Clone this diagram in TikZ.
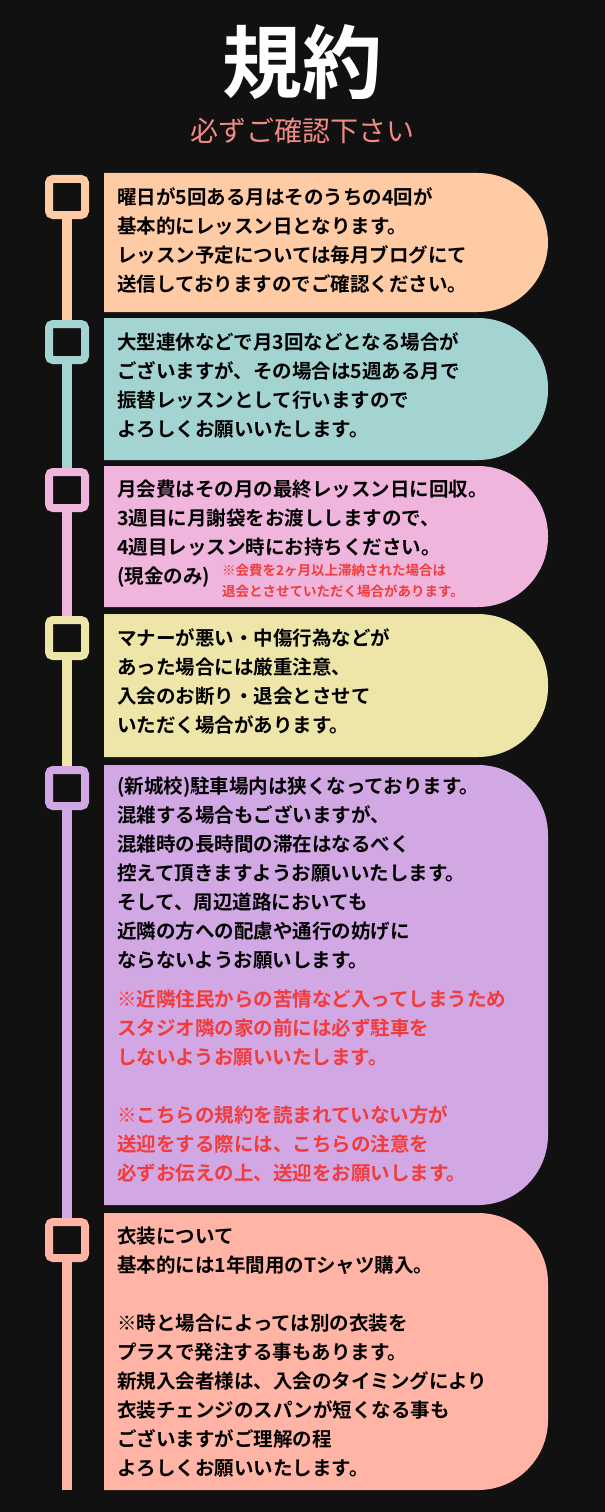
\documentclass[tikz,border=0pt]{standalone}
\usepackage{fontspec}
\setmainfont{Noto Sans CJK JP Bold}
\newfontfamily\lightfont{Noto Sans CJK JP}
\usetikzlibrary{positioning}
\definecolor{bgcol}{HTML}{111111}
\definecolor{peach}{HTML}{FFCBA4}
\definecolor{teal}{HTML}{A3D4D1}
\definecolor{pinkc}{HTML}{F0B5DC}
\definecolor{yell}{HTML}{EEE5A8}
\definecolor{purp}{HTML}{D1A7E4}
\definecolor{salm}{HTML}{FFB4A6}
\definecolor{redtxt}{HTML}{F23C3C}
\definecolor{subcol}{HTML}{F08A84}
\tikzset{
  marker/.style={draw=#1, line width=8bp, fill=bgcol, rounded corners=4bp, minimum size=36bp, inner sep=0pt},
  bar/.style={draw=#1, line width=10bp},
  body/.style={anchor=north west, align=left, inner sep=0pt, font=\fontsize{19.5bp}{29bp}\selectfont},
  small/.style={anchor=north west, align=left, inner sep=0pt, text=redtxt, font=\fontsize{13.5bp}{21bp}\selectfont},
}
\newcommand{\card}[3]{% color, top, bottom
  \fill[#1] (104,#2) -- (478,#2) [rounded corners=70bp] -- (548,#2) -- (548,#3) [sharp corners] -- (478,#3) -- (104,#3) -- cycle;}
\begin{document}
\begin{tikzpicture}[x=1bp,y=-1bp]
\fill[bgcol] (0,0) rectangle (605,1512);
\node (title) at (302,62) {\fontsize{80bp}{88bp}\selectfont\color{white}規約};
\node[text=subcol, font=\lightfont\fontsize{28bp}{30bp}\selectfont] (sub) at (302,131) {必ずご確認下さい};
% cards
\card{peach}{173}{312}
\card{teal}{318}{460}
\card{pinkc}{466}{607}
\card{yell}{614}{757}
\card{purp}{765}{1205}
\card{salm}{1213}{1490}
% markers
\node[marker=peach] (m1) at (67,197) {};
\node[marker=teal] (m2) at (67,342) {};
\node[marker=pinkc] (m3) at (67,490) {};
\node[marker=yell] (m4) at (67,638) {};
\node[marker=purp] (m5) at (67,788) {};
\node[marker=salm] (m6) at (67,1240) {};
\coordinate (end) at (67,1490);
\draw[bar=peach] (m1.south) -- (m2.north);
\draw[bar=teal] (m2.south) -- (m3.north);
\draw[bar=pinkc] (m3.south) -- (m4.north);
\draw[bar=yell] (m4.south) -- (m5.north);
\draw[bar=purp] (m5.south) -- (m6.north);
\draw[bar=salm] (m6.south) -- (end);
% texts
\node[body] (t1) at (117,187) {曜日が5回ある月はそのうちの4回が\\基本的にレッスン日となります。\\レッスン予定については毎月ブログにて\\送信しておりますのでご確認ください。};
\node[body] (t2) at (117,332) {大型連休などで月3回などとなる場合が\\ございますが、その場合は5週ある月で\\振替レッスンとして行いますので\\よろしくお願いいたします。};
\node[body] (t3) at (117,480) {月会費はその月の最終レッスン日に回収。\\3週目に月謝袋をお渡ししますので、\\4週目レッスン時にお持ちください。\\(現金のみ)};
\node[small] (n3) at (222,564) {※会費を2ヶ月以上滞納された場合は\\退会とさせていただく場合があります。};
\node[body] (t4) at (117,628) {マナーが悪い・中傷行為などが\\あった場合には厳重注意、\\入会のお断り・退会とさせて\\いただく場合があります。};
\node[body] (t5) at (117,777) {(新城校)駐車場内は狭くなっております。\\混雑する場合もございますが、\\混雑時の長時間の滞在はなるべく\\控えて頂きますようお願いいたします。\\そして、周辺道路においても\\近隣の方への配慮や通行の妨げに\\ならないようお願いします。};
\node[body, text=redtxt] (r5) at (117,990) {※近隣住民からの苦情など入ってしまうため\\スタジオ隣の家の前には必ず駐車を\\しないようお願いいたします。\\[29bp]※こちらの規約を読まれていない方が\\送迎をする際には、こちらの注意を\\必ずお伝えの上、送迎をお願いします。};
\node[body] (t6) at (117,1227) {衣装について\\基本的には1年間用のTシャツ購入。\\[29bp]※時と場合によっては別の衣装を\\プラスで発注する事もあります。\\新規入会者様は、入会のタイミングにより\\衣装チェンジのスパンが短くなる事も\\ございますがご理解の程\\よろしくお願いいたします。};
\end{tikzpicture}
\end{document}
